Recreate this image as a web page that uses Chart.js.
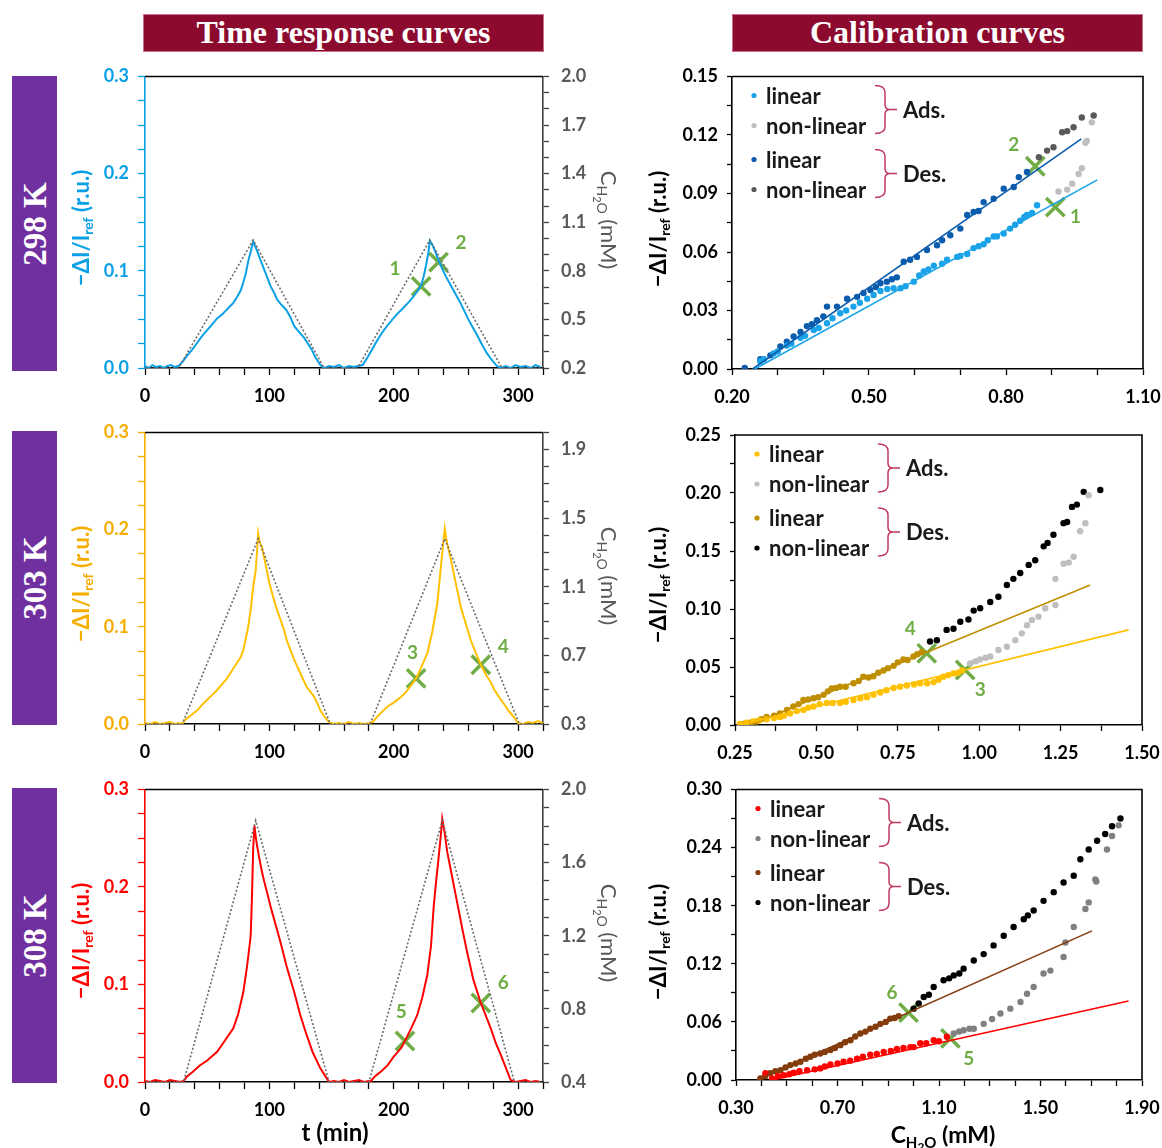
<!DOCTYPE html>
<html>
<head>
<meta charset="utf-8">
<script src="https://cdn.jsdelivr.net/npm/chart.js@4.4.0/dist/chart.umd.min.js"></script>
<style>
body{margin:0;width:1162px;height:1148px;position:relative;background:#fff;overflow:hidden}
.banner{position:absolute;top:14px;height:38px;background:#8c0a2e;color:#fff;font:bold 32px "Liberation Serif",serif;text-align:center;line-height:34px;border:1px solid #c9708a;box-sizing:border-box}
.side{position:absolute;left:12px;width:45px;background:#7030a0}
.side span{position:absolute;left:50%;top:50%;transform:translate(-50%,-50%) rotate(-90deg);color:#fff;font:bold 33px "Liberation Serif",serif;white-space:nowrap}
canvas{position:absolute}
</style>
</head>
<body>
<div class="banner" style="left:143px;width:401px">Time response curves</div>
<div class="banner" style="left:732px;width:411px">Calibration curves</div>
<div class="side" style="top:76px;height:295px"><span>298 K</span></div>
<div class="side" style="top:431px;height:294px"><span>303 K</span></div>
<div class="side" style="top:788px;height:295px"><span>308 K</span></div>

<canvas id="tA" width="580" height="350" style="left:60px;top:60px"></canvas>
<canvas id="tB" width="580" height="350" style="left:60px;top:416px"></canvas>
<canvas id="tC" width="580" height="375" style="left:60px;top:773px"></canvas>
<canvas id="cD" width="522" height="350" style="left:640px;top:60px"></canvas>
<canvas id="cE" width="522" height="350" style="left:640px;top:416px"></canvas>
<canvas id="cF" width="522" height="375" style="left:640px;top:773px"></canvas>

<script>
// ---------- time response data ----------
// 298 K
const t298 = [0,3,6,9,12,15,18,21,24,27,30,34,38,42,46,50,54,58,62,65,68,71,74,77,79,81,83,85,87,88,90,92,95,98,101,104,106,109,112,114,117,120,124,128,131,134,137,141,144,148,152,156,160,164,168,171,
  175,179,183,187,191,195,199,203,207,210,213,216,219,222,224,226,228,229,231,233,236,239,242,245,248,251,254,257,260,263,267,271,275,279,283,286,290,294,298,302,306,310,314,318];
const r298 = [.002,.000,.003,.001,.002,.000,.002,.003,.001,.002,.006,.013,.019,.026,.033,.039,.045,.051,.055,.059,.063,.067,.073,.080,.088,.097,.110,.120,.130,.127,.121,.114,.104,.094,.084,.077,.071,.066,.062,.059,.052,.043,.037,.031,.025,.019,.011,.003,.000,.002,.001,.003,.000,.002,.001,.002,
  .003,.011,.020,.029,.037,.044,.050,.056,.061,.065,.069,.074,.079,.085,.094,.106,.120,.131,.127,.121,.111,.102,.094,.087,.080,.073,.066,.058,.050,.043,.034,.024,.015,.008,.002,.000,.002,.000,.003,.001,.002,.000,.003,.001];
const tc298 = [0,27,87,144,171,229,287,320];
const c298 = [0.2,0.2,0.99,0.2,0.2,0.99,0.2,0.2];
const mt298 = [222,236], mv298 = [0.084,0.109];
const nums298 = [{t:'1',x:201,y:0.102},{t:'2',x:254,y:0.129}];

// 303 K
const t303 = [0,4,8,12,16,20,24,28,30,32,37,42,46,50,54,58,62,66,70,74,77,79,81,83,85,87,89,90,91,92,94,96,98,100,103,106,109,112,114,117,120,125,130,133,136,139,141,144,148,152,156,160,164,168,172,176,180,
  183,187,191,195,200,206,210,214,218,222,227,231,235,237,239,241,242,244,246,250,254,258,262,266,270,274,278,281,285,289,292,296,300,304,308,312,316,320];
const r303 = [.001,.000,.002,.000,.001,.002,.000,.001,.000,.004,.009,.014,.020,.025,.030,.035,.041,.047,.055,.063,.069,.076,.088,.100,.118,.141,.158,.176,.196,.188,.182,.170,.158,.145,.131,.118,.107,.096,.086,.076,.066,.052,.038,.033,.028,.020,.014,.008,.002,.000,.001,.000,.002,.000,.001,.000,.001,
  .002,.008,.013,.018,.022,.028,.033,.040,.047,.058,.073,.095,.124,.150,.176,.201,.192,.180,.169,.144,.120,.103,.086,.073,.061,.051,.043,.035,.027,.020,.014,.008,.001,.000,.002,.001,.003,.001];
const tc303 = [0,30,91,149,181,241,301,320];
const c303 = [0.3,0.3,1.38,0.3,0.3,1.38,0.3,0.3];
const mt303 = [218,270], mv303 = [0.047,0.061];
const nums303 = [{t:'3',x:215,y:0.073},{t:'4',x:288,y:0.079}];

// 308 K
const t308 = [0,4,8,12,16,20,24,28,31,34,38,44,50,58,64,71,75,79,82,85,86,87,88,89,90,91,93,95,98,102,106,109,114,120,125,130,135,141,145,148,152,156,160,164,168,172,176,180,
  181,185,190,195,200,206,209,214,219,223,227,230,232,234,236,238,239,241,243,247,251,255,259,264,270,274,278,282,286,290,294,298,302,306,310,314,318];
const r308 = [.001,.000,.002,.001,.000,.002,.001,.000,.001,.006,.010,.017,.022,.031,.042,.055,.070,.092,.118,.150,.190,.240,.263,.252,.243,.236,.222,.210,.195,.175,.157,.143,.118,.092,.068,.048,.030,.014,.006,.000,.001,.000,.002,.000,.001,.002,.000,.001,
  .000,.006,.011,.017,.026,.035,.042,.055,.069,.087,.110,.140,.178,.205,.229,.255,.270,.255,.236,.210,.184,.158,.133,.105,.081,.068,.055,.040,.028,.015,.002,.000,.001,.002,.000,.001,.000];
const tc308 = [0,31,89,148,180,239,297,320];
const c308 = [0.4,0.4,1.83,0.4,0.4,1.83,0.4,0.4];
const mt308 = [209,270], mv308 = [0.042,0.081];
const nums308 = [{t:'5',x:206,y:0.072},{t:'6',x:288,y:0.102}];

// ---------- calibration data ----------
// 298 K
const adsLinX298 = [0.262,0.27,0.291,0.30,0.32,0.33,0.35,0.36,0.379,0.39,0.408,0.42,0.437,0.45,0.466,0.48,0.496,0.51,0.525,0.54,0.554,0.569,0.58,0.598,0.61,0.62,0.63,0.642,0.66,0.671,0.693,0.70,0.715,0.729,0.74,0.751,0.76,0.773,0.78,0.795,0.809,0.82,0.831,0.84,0.846,0.857,0.868];
const adsLinY298 = [0.004,0.005,0.008,0.009,0.012,0.013,0.016,0.017,0.020,0.021,0.0235,0.026,0.0286,0.030,0.032,0.034,0.036,0.038,0.040,0.041,0.0414,0.0414,0.0425,0.0448,0.048,0.050,0.051,0.053,0.054,0.056,0.0575,0.058,0.059,0.062,0.063,0.064,0.066,0.068,0.068,0.0695,0.072,0.074,0.076,0.078,0.079,0.080,0.084];
const adsNonX298 = [0.915,0.934,0.945,0.959,0.966,0.974,0.977,0.988];
const adsNonY298 = [0.091,0.092,0.095,0.100,0.103,0.116,0.117,0.1265];
const desLinX298 = [0.228,0.262,0.284,0.306,0.32,0.335,0.35,0.364,0.375,0.386,0.40,0.408,0.43,0.452,0.474,0.488,0.503,0.515,0.525,0.539,0.55,0.561,0.576,0.59,0.605,0.627,0.649,0.66,0.678,0.70,0.715,0.729,0.74,0.751,0.773,0.795,0.817,0.828,0.846];
const desLinY298 = [0.0005,0.005,0.007,0.0116,0.014,0.0167,0.019,0.022,0.023,0.025,0.027,0.032,0.032,0.036,0.037,0.039,0.0405,0.042,0.044,0.0448,0.046,0.047,0.055,0.056,0.0575,0.061,0.0635,0.066,0.0686,0.072,0.079,0.0805,0.081,0.0856,0.0873,0.0925,0.0933,0.0984,0.101];
const desNonX298 = [0.872,0.89,0.904,0.923,0.934,0.948,0.966,0.992];
const desNonY298 = [0.1086,0.112,0.1137,0.1214,0.122,0.124,0.129,0.130];
const adsFitX298 = [0.25,1.0], adsFitY298 = [0,0.097];
const desFitX298 = [0.245,0.965], desFitY298 = [0,0.118];
const calM298X = [0.908,0.864], calM298Y = [0.083,0.104];
const calNums298 = [{t:'1',x:0.952,y:0.078},{t:'2',x:0.817,y:0.115}];

// 303 K
const adsLinX303 = [0.265,0.285,0.306,0.325,0.347,0.37,0.388,0.40,0.419,0.44,0.46,0.475,0.491,0.51,0.532,0.55,0.573,0.59,0.614,0.635,0.655,0.675,0.696,0.715,0.737,0.757,0.778,0.80,0.819,0.84,0.86,0.875,0.89,0.905,0.921,0.935,0.947];
const adsLinY303 = [0.001,0.002,0.003,0.004,0.005,0.006,0.007,0.008,0.010,0.012,0.013,0.015,0.016,0.018,0.019,0.019,0.019,0.020,0.0216,0.023,0.024,0.026,0.028,0.030,0.032,0.033,0.034,0.035,0.036,0.036,0.037,0.039,0.0417,0.043,0.0445,0.045,0.047];
const adsNonX303 = [0.972,0.99,1.003,1.02,1.034,1.059,1.085,1.111,1.131,1.147,1.162,1.182,1.203,1.234,1.234,1.259,1.275,1.29,1.31,1.326,1.336];
const adsNonY303 = [0.053,0.055,0.0566,0.058,0.059,0.0647,0.0675,0.073,0.079,0.086,0.0905,0.0934,0.1006,0.1034,0.126,0.139,0.140,0.145,0.167,0.174,0.198];
const desLinX303 = [0.276,0.297,0.317,0.33,0.347,0.37,0.388,0.41,0.429,0.445,0.46,0.475,0.491,0.505,0.522,0.535,0.547,0.56,0.573,0.59,0.614,0.63,0.644,0.66,0.675,0.69,0.706,0.72,0.737,0.75,0.767,0.78,0.798,0.81,0.824];
const desLinY303 = [0.001,0.002,0.003,0.005,0.007,0.008,0.010,0.013,0.016,0.018,0.0216,0.022,0.023,0.024,0.026,0.029,0.0316,0.032,0.033,0.033,0.036,0.038,0.0417,0.041,0.042,0.045,0.047,0.049,0.051,0.054,0.0566,0.056,0.059,0.061,0.063];
const desNonX303 = [0.849,0.87,0.9,0.921,0.942,0.967,0.983,1.003,1.034,1.059,1.085,1.105,1.126,1.152,1.172,1.198,1.21,1.228,1.259,1.27,1.285,1.3,1.321,1.372];
const desNonY303 = [0.072,0.073,0.082,0.083,0.089,0.091,0.0986,0.1006,0.106,0.1106,0.1207,0.126,0.131,0.138,0.142,0.154,0.157,0.164,0.174,0.175,0.188,0.19,0.201,0.2026];
const adsFitX303 = [0.265,1.459], adsFitY303 = [0,0.082];
const desFitX303 = [0.296,1.341], desFitY303 = [0,0.1207];
const calM303X = [0.957,0.839], calM303Y = [0.0474,0.0618];
const calNums303 = [{t:'3',x:1.003,y:0.030},{t:'4',x:0.788,y:0.0825}];

// 308 K
const adsLinX308 = [0.416,0.442,0.465,0.488,0.51,0.527,0.55,0.58,0.61,0.632,0.65,0.672,0.70,0.724,0.75,0.777,0.80,0.829,0.855,0.882,0.91,0.934,0.96,0.987,1.0,1.026,1.05,1.079,1.10,1.131];
const adsLinY308 = [0.007,0.0017,0.004,0.005,0.006,0.0075,0.009,0.010,0.011,0.012,0.014,0.016,0.017,0.019,0.020,0.022,0.024,0.026,0.027,0.029,0.030,0.032,0.033,0.034,0.034,0.038,0.038,0.041,0.040,0.0446];
const adsNonX308 = [1.158,1.18,1.197,1.22,1.237,1.276,1.309,1.342,1.381,1.421,1.447,1.473,1.512,1.539,1.591,1.598,1.631,1.677,1.69,1.716,1.72,1.762,1.782,1.808];
const adsNonY308 = [0.048,0.050,0.0514,0.053,0.053,0.058,0.063,0.0686,0.0737,0.0806,0.089,0.096,0.11,0.113,0.127,0.142,0.158,0.1766,0.1834,0.207,0.205,0.238,0.252,0.263];
const desLinX308 = [0.396,0.415,0.435,0.455,0.475,0.495,0.514,0.535,0.554,0.575,0.593,0.61,0.632,0.65,0.672,0.69,0.711,0.73,0.751,0.77,0.79,0.81,0.829,0.85,0.869,0.89,0.908,0.925,0.941];
const desLinY308 = [0.0017,0.004,0.007,0.009,0.010,0.013,0.0154,0.017,0.0189,0.022,0.024,0.026,0.0274,0.029,0.031,0.033,0.036,0.039,0.041,0.045,0.048,0.050,0.053,0.055,0.058,0.060,0.0634,0.064,0.066];
const desNonX308 = [1.0,1.02,1.04,1.06,1.079,1.118,1.14,1.158,1.18,1.197,1.237,1.276,1.315,1.355,1.394,1.434,1.45,1.473,1.512,1.552,1.591,1.631,1.657,1.69,1.723,1.755,1.782,1.815];
const desNonY308 = [0.0737,0.079,0.0857,0.088,0.096,0.103,0.105,0.108,0.110,0.115,0.1234,0.130,0.139,0.149,0.158,0.166,0.170,0.175,0.185,0.194,0.204,0.211,0.228,0.238,0.247,0.254,0.262,0.27];
const adsFitX308 = [0.442,1.847], adsFitY308 = [0,0.0816];
const desFitX308 = [0.383,1.703], desFitY308 = [0,0.154];
const calM308X = [1.145,0.98], calM308Y = [0.043,0.0696];
const calNums308 = [{t:'5',x:1.217,y:0.0223},{t:'6',x:0.915,y:0.090}];

// tick labels (major) per axis
const tTicks = [0,100,200,300];
const respTicks = [0,0.1,0.2,0.3];
const conc298Ticks = [0.2,0.5,0.8,1.1,1.4,1.7,2.0];
const conc303Ticks = [0.3,0.7,1.1,1.5,1.9];
const conc308Ticks = [0.4,0.8,1.2,1.6,2.0];
const calX298Ticks = [0.2,0.5,0.8,1.1], calY298Ticks = [0,0.03,0.06,0.09,0.12,0.15];
const calX303Ticks = [0.25,0.5,0.75,1.0,1.25,1.5], calY303Ticks = [0,0.05,0.1,0.15,0.2,0.25];
const calX308Ticks = [0.3,0.7,1.1,1.5,1.9], calY308Ticks = [0,0.06,0.12,0.18,0.24,0.3];

const GREEN = '#70ad47';
const FONT = 'Lato, sans-serif';
Chart.defaults.animation = false;
Chart.defaults.font.family = FONT;
Chart.defaults.font.weight = 'bold';
Chart.defaults.font.size = 18;

function pts(xs, ys) { return xs.map((x, i) => ({x: x, y: ys[i]})); }

// linear axis with minor ticks (unlabelled) and labelled majors
function axis(min, max, minor, majors, dec, color, tickLen, pad, fit) {
  return {
    type: 'linear', min: min, max: max,
    afterBuildTicks: (ax) => {
      const n = Math.round((max - min) / minor), list = [];
      for (let i = 0; i <= n; i++) list.push({value: +(min + i * minor).toFixed(5)});
      ax.ticks = list;
    },
    afterFit: (s) => { fit(s); s.paddingTop = 0; s.paddingBottom = 0; s.paddingLeft = 0; s.paddingRight = 0; },
    ticks: {
      autoSkip: false, maxRotation: 0, color: color, padding: pad,
      callback: (v) => majors.some(m => Math.abs(m - v) < minor / 10) ? v.toFixed(dec) : ''
    },
    grid: { drawOnChartArea: false, color: color, tickLength: tickLen, tickWidth: 1.3 },
    border: { color: color, width: 1.6 }
  };
}

function rich(ctx, parts, x, y, rot, size, color, weight) {
  ctx.save();
  ctx.translate(x, y); ctx.rotate(rot);
  ctx.fillStyle = color; ctx.textBaseline = 'middle'; ctx.textAlign = 'left';
  const f = (p) => weight + ' ' + Math.round(size * (p.s === 2 ? 0.5 : p.s ? 0.65 : 1)) + 'px ' + FONT;
  let w = 0;
  parts.forEach(p => { ctx.font = f(p); w += ctx.measureText(p.t).width; });
  let cx = -w / 2;
  parts.forEach(p => {
    ctx.font = f(p);
    ctx.fillText(p.t, cx, p.s === 2 ? size * 0.5 : p.s ? size * 0.3 : 0);
    cx += ctx.measureText(p.t).width;
  });
  ctx.restore();
}

const RESP = [{t:'\u2212\u0394I/I'},{t:'ref',s:1},{t:' (r.u.)'}];
const CONC = [{t:'C'},{t:'H',s:1},{t:'2',s:2},{t:'O',s:1},{t:' (mM)'}];

const decor = {
  id: 'decor',
  afterDatasetsDraw(chart, args, o) {
    const ctx = chart.ctx, a = chart.chartArea, sx = chart.scales.x, sy = chart.scales.y;
    ctx.save();
    ctx.strokeStyle = '#000'; ctx.lineWidth = 1.6;
    ctx.beginPath(); ctx.moveTo(a.left, a.top); ctx.lineTo(a.right, a.top);
    if (o.box) ctx.lineTo(a.right, a.bottom);
    ctx.stroke();
    ctx.fillStyle = GREEN; ctx.font = 'bold 19px ' + FONT; ctx.textAlign = 'center'; ctx.textBaseline = 'middle';
    o.nums.forEach(n => ctx.fillText(n.t, sx.getPixelForValue(n.x), sy.getPixelForValue(n.y)));
    rich(ctx, RESP, o.lt[0], o.lt[1], -Math.PI / 2, 22, o.lc, 'bold');
    if (o.rt) rich(ctx, CONC, o.rt[0], o.rt[1], Math.PI / 2, 22, '#595959', 'normal');
    if (o.bt) rich(ctx, o.btParts === 'conc' ? CONC : [{t: 't (min)'}], o.bt[0], o.bt[1], 0, o.btParts === 'conc' ? 23 : 24, '#000', 'bold');
    if (o.legend) {
      const rows = [19, 49, 83, 113];
      ctx.font = 'bold 22px ' + FONT; ctx.textAlign = 'left';
      o.legend.forEach((it, i) => {
        const y = a.top + rows[i];
        ctx.fillStyle = it.c; ctx.beginPath(); ctx.arc(a.left + 22, y, 2.6, 0, Math.PI * 2); ctx.fill();
        ctx.fillStyle = '#1a1a1a'; ctx.fillText(it.t, a.left + 34, y + 1);
      });
      ctx.strokeStyle = '#c0395e'; ctx.lineWidth = 1.5;
      [[9, 57, 'Ads.'], [73, 121, 'Des.']].forEach(b => {
        const x0 = a.left + 143, xv = a.left + 153, xt = a.left + 165;
        const yT = a.top + b[0], yB = a.top + b[1], yM = (yT + yB) / 2;
        ctx.beginPath();
        ctx.moveTo(x0, yT); ctx.quadraticCurveTo(xv, yT, xv, yT + 7);
        ctx.lineTo(xv, yM - 5); ctx.quadraticCurveTo(xv, yM, xv + 5, yM); ctx.lineTo(xt, yM);
        ctx.moveTo(xv + 5, yM); ctx.quadraticCurveTo(xv, yM, xv, yM + 5);
        ctx.lineTo(xv, yB - 7); ctx.quadraticCurveTo(xv, yB, x0, yB);
        ctx.stroke();
        ctx.fillStyle = '#1a1a1a'; ctx.fillText(b[2], a.left + 171, yM + 1);
      });
    }
    ctx.restore();
  }
};

function markerSet(xs, ys) {
  return { data: pts(xs, ys), pointStyle: 'crossRot', pointRadius: 13, borderColor: GREEN, borderWidth: 3.5, backgroundColor: GREEN };
}

function timeChart(id, col, axCol, t, r, tc, c, mt, mv, nums, cMin, cTicks, bottomH, showTitle) {
  const y2 = Object.assign(axis(cMin, 2.0, 0.1, cTicks, 1, '#404040', 6, 12, s => { s.width = 97; }), { position: 'right' });
  y2.ticks.color = '#595959';
  new Chart(document.getElementById(id), {
    type: 'scatter',
    data: { datasets: [
      { data: pts(tc, c), yAxisID: 'y2', showLine: true, borderColor: '#6b6b6b', borderWidth: 1.6, borderDash: [2, 2], pointRadius: 0 },
      { data: pts(t, r), yAxisID: 'y', showLine: true, borderColor: col, borderWidth: 2, pointRadius: 0 },
      Object.assign(markerSet(mt, mv), { yAxisID: 'y' })
    ]},
    options: {
      responsive: false,
      layout: { padding: { top: 16, left: 0, right: 0, bottom: 0 } },
      plugins: { legend: { display: false }, tooltip: { enabled: false },
        decor: { nums: nums, lt: [22, 168], lc: axCol, rt: [548, 160], bt: showTitle ? [275, 360] : null, box: false } },
      scales: {
        x: axis(0, 320, 20, tTicks, 0, '#000', 7, 10, s => { s.height = bottomH; }),
        y: Object.assign(axis(0, 0.3, 0.025, respTicks, 1, axCol, 7, 9, s => { s.width = 85; }), { position: 'left' }),
        y2: y2
      }
    },
    plugins: [decor]
  });
}

function calChart(id, cols, sets, fits, mx, my, nums, xr, yr, pad, bottomH, showTitle) {
  const labels = ['linear', 'non-linear', 'linear', 'non-linear'];
  const ds = [];
  ds.push({ data: pts(fits[0], fits[1]), showLine: true, borderColor: cols[0], borderWidth: 1.6, pointRadius: 0 });
  ds.push({ data: pts(fits[2], fits[3]), showLine: true, borderColor: cols[2], borderWidth: 1.6, pointRadius: 0 });
  sets.forEach((s, i) => ds.push({ data: pts(s[0], s[1]), pointRadius: 3.2, borderWidth: 0, backgroundColor: cols[i], pointBorderColor: cols[i] }));
  ds.push(markerSet(mx, my));
  new Chart(document.getElementById(id), {
    type: 'scatter',
    data: { datasets: ds },
    options: {
      responsive: false,
      layout: { padding: { top: pad[0], left: 0, right: pad[1], bottom: 0 } },
      plugins: { legend: { display: false }, tooltip: { enabled: false },
        decor: { nums: nums, lt: [19, 169], lc: '#000', bt: showTitle ? [303, 363] : null, btParts: 'conc', box: true,
          legend: labels.map((l, i) => ({ t: l, c: cols[i] })) } },
      scales: {
        x: axis(xr[0], xr[1], xr[2], xr[3], 2, '#000', 6, 11, s => { s.height = bottomH; }),
        y: axis(yr[0], yr[1], yr[2], yr[3], 2, '#000', 5, 9, s => { s.width = pad[2]; })
      }
    },
    plugins: [decor]
  });
}

timeChart('tA', '#0aa0e6', '#0aa0e6', t298, r298, tc298, c298, mt298, mv298, nums298, 0.2, conc298Ticks, 42, false);
timeChart('tB', '#ffc000', '#f5ad00', t303, r303, tc303, c303, mt303, mv303, nums303, 0.3, conc303Ticks, 42, false);
timeChart('tC', '#ff0000', '#ff0000', t308, r308, tc308, c308, mt308, mv308, nums308, 0.4, conc308Ticks, 66, true);

calChart('cD', ['#1aa3e8', '#bfbfbf', '#0b5cad', '#595959'],
  [[adsLinX298, adsLinY298], [adsNonX298, adsNonY298], [desLinX298, desLinY298], [desNonX298, desNonY298]],
  [adsFitX298, adsFitY298, desFitX298, desFitY298], calM298X, calM298Y, calNums298,
  [0.2, 1.1, 0.1, calX298Ticks], [0, 0.15, 0.015, calY298Ticks], [16, 19, 92], 41, false);
calChart('cE', ['#ffc000', '#bfbfbf', '#bf8f00', '#000000'],
  [[adsLinX303, adsLinY303], [adsNonX303, adsNonY303], [desLinX303, desLinY303], [desNonX303, desNonY303]],
  [adsFitX303, adsFitY303, desFitX303, desFitY303], calM303X, calM303Y, calNums303,
  [0.25, 1.5, 0.125, calX303Ticks], [0, 0.25, 0.025, calY303Ticks], [19, 20, 95], 41, false);
calChart('cF', ['#ff0000', '#808080', '#843c0c', '#000000'],
  [[adsLinX308, adsLinY308], [adsNonX308, adsNonY308], [desLinX308, desLinY308], [desNonX308, desNonY308]],
  [adsFitX308, adsFitY308, desFitX308, desFitY308], calM308X, calM308Y, calNums308,
  [0.3, 1.9, 0.1, calX308Ticks], [0, 0.3, 0.03, calY308Ticks], [15, 20, 96], 68, true);
</script>
</body>
</html>
